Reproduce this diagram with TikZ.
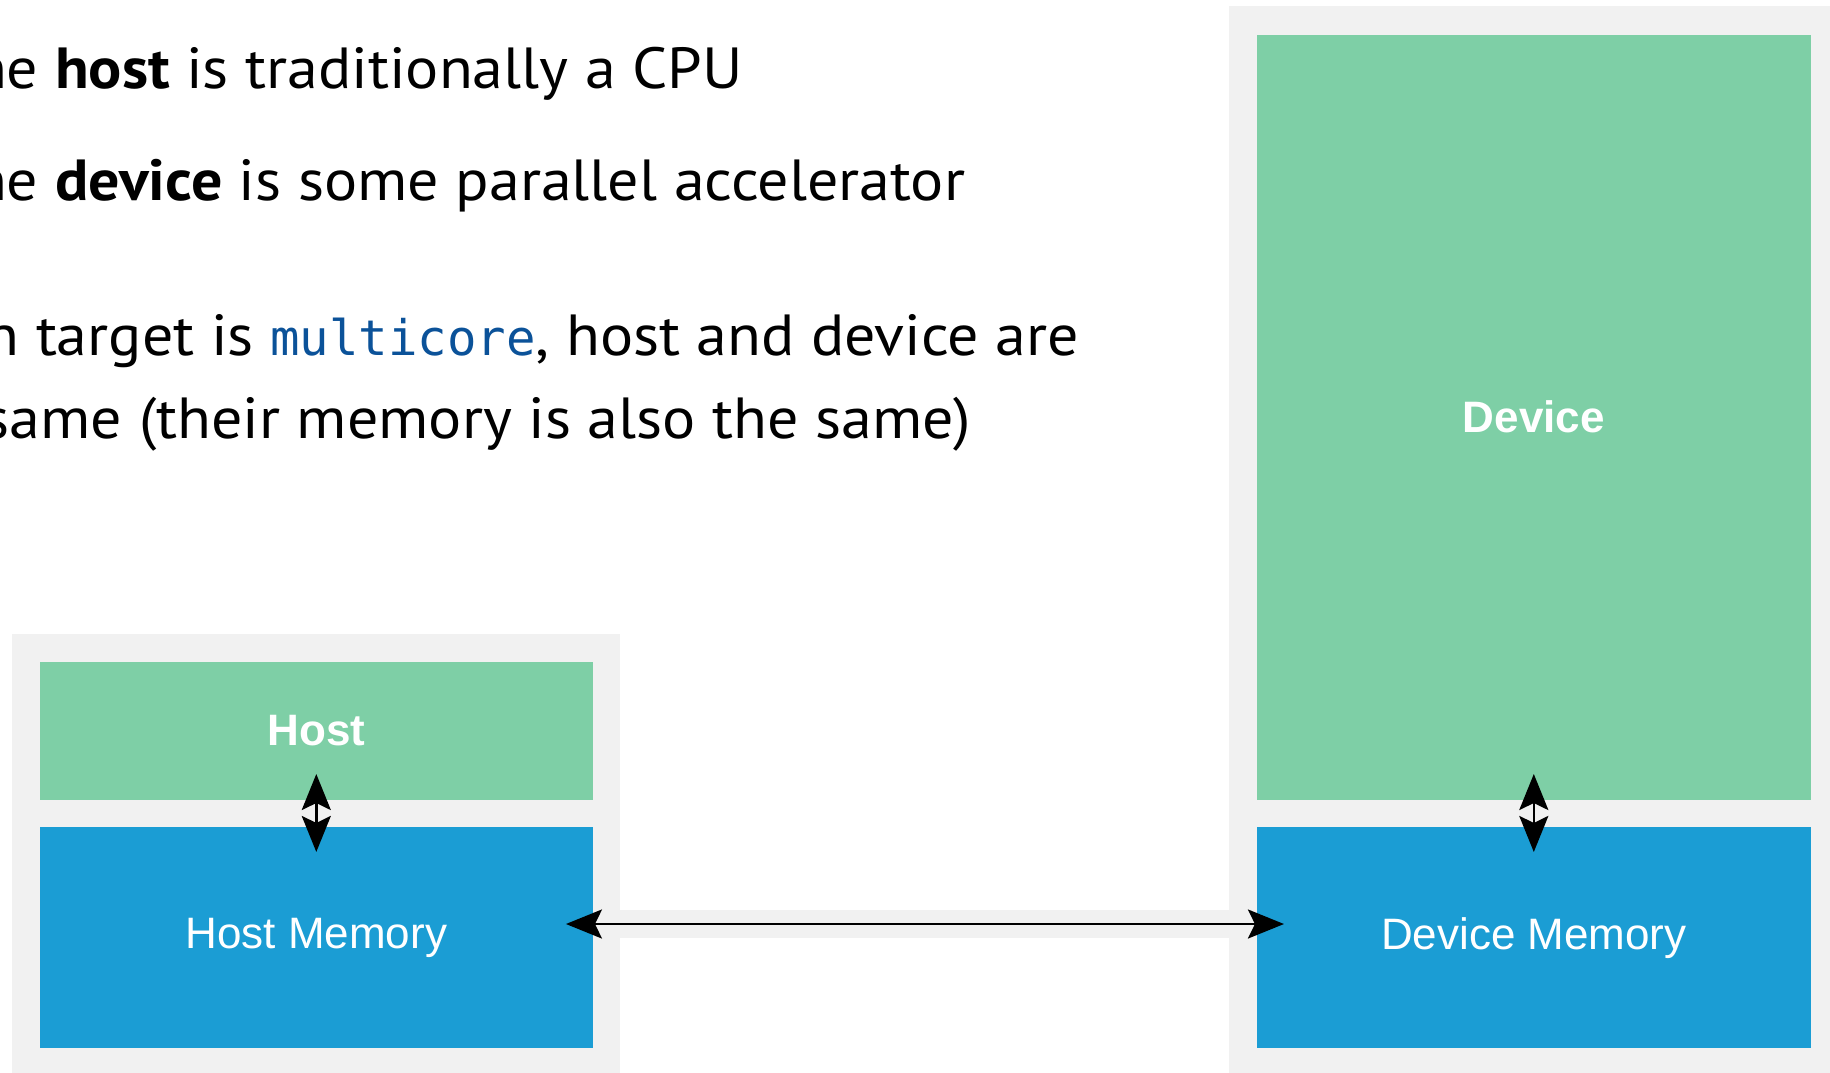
\documentclass[tikz,border=0pt]{standalone}
\usepackage{fontspec}
\setmainfont{PT Sans}[FakeStretch=1.068]
\newfontfamily\arialfont{Liberation Sans}
\newfontfamily\codefont{DejaVu Sans Mono}
\usetikzlibrary{arrows.meta}
\definecolor{boxgreen}{HTML}{7ECFA6}
\definecolor{boxblue}{HTML}{1B9DD4}
\definecolor{panelgray}{HTML}{F1F1F1}
\definecolor{codeblue}{HTML}{0B5299}
\newcommand{\wordgap}{\kern\fontdimen2\font}
\begin{document}
\begin{tikzpicture}[x=1pt,y=-1pt,
  panel/.style={fill=panelgray, draw=none, inner sep=0pt, outer sep=0pt},
  unitbox/.style={fill=boxgreen, draw=none, inner sep=0pt, outer sep=0pt, text=white,
    font=\arialfont\bfseries\fontsize{44}{50}\selectfont},
  membox/.style={fill=boxblue, draw=none, inner sep=0pt, outer sep=0pt, text=white,
    font=\arialfont\fontsize{44}{50}\selectfont},
  bodytext/.style={inner sep=0pt, outer sep=0pt, anchor=base west, font=\fontsize{58}{70}\selectfont},
  leadin/.style={bodytext, anchor=base east},
  link/.style={draw=black, line width=2.6pt,
    {Stealth[length=36pt,width=29pt,inset=7pt]}-{Stealth[length=36pt,width=29pt,inset=7pt]}}
]
\useasboundingbox (0,0) rectangle (1830,1072);
\clip (0,0) rectangle (1830,1072);
\fill[white] (0,0) rectangle (1830,1072);

% text
\node[bodytext] (l1) at (55,88) {\textbf{host} is traditionally a CPU};
\node[leadin] (l1p) at (l1.base west) {The\wordgap};
\node[bodytext] (l2) at (55,200) {\textbf{device} is some parallel accelerator};
\node[leadin] (l2p) at (l2.base west) {The\wordgap};
\node[bodytext] (l3) at (36,355) {target is {\codefont\color{codeblue}\fontsize{49}{56}\selectfont multicore}, host and device are};
\node[leadin] (l3p) at (l3.base west) {compilation\wordgap};
\node[bodytext] (l4) at (139,438) {(their memory is also the same)};
\node[leadin] (l4p) at (l4.base west) {the same\wordgap};

% panels
\node[panel, minimum width=608pt, minimum height=446pt] (hostpanel) at (316,857) {};
\node[panel, minimum width=611pt, minimum height=1075pt] (devpanel) at (1534.5,543) {};
\node[panel, minimum width=609pt, minimum height=28pt] (bridge) at (924.5,924) {};

% boxes
\node[unitbox, minimum width=553.3pt, minimum height=137.8pt] (host) at (316.3,730.6) {Host};
\node[membox, minimum width=553.3pt, minimum height=220.5pt] (hostmem) at (316.3,937.7) {Host Memory};
\node[unitbox, minimum width=553.7pt, minimum height=765pt] (dev) at (1533.8,417) {Device};
\node[membox, minimum width=553.7pt, minimum height=220.5pt] (devmem) at (1533.8,937.7) {Device Memory};

% connectors
\draw[link] ([yshift=25.5pt]host.south) -- ([yshift=-24.5pt]hostmem.north);
\draw[link] ([yshift=25.5pt]dev.south) -- ([yshift=-24.5pt]devmem.north);
\draw[link] ([xshift=-27pt,yshift=13.7pt]hostmem.east) -- ([xshift=27pt,yshift=13.7pt]devmem.west);
\end{tikzpicture}
\end{document}
